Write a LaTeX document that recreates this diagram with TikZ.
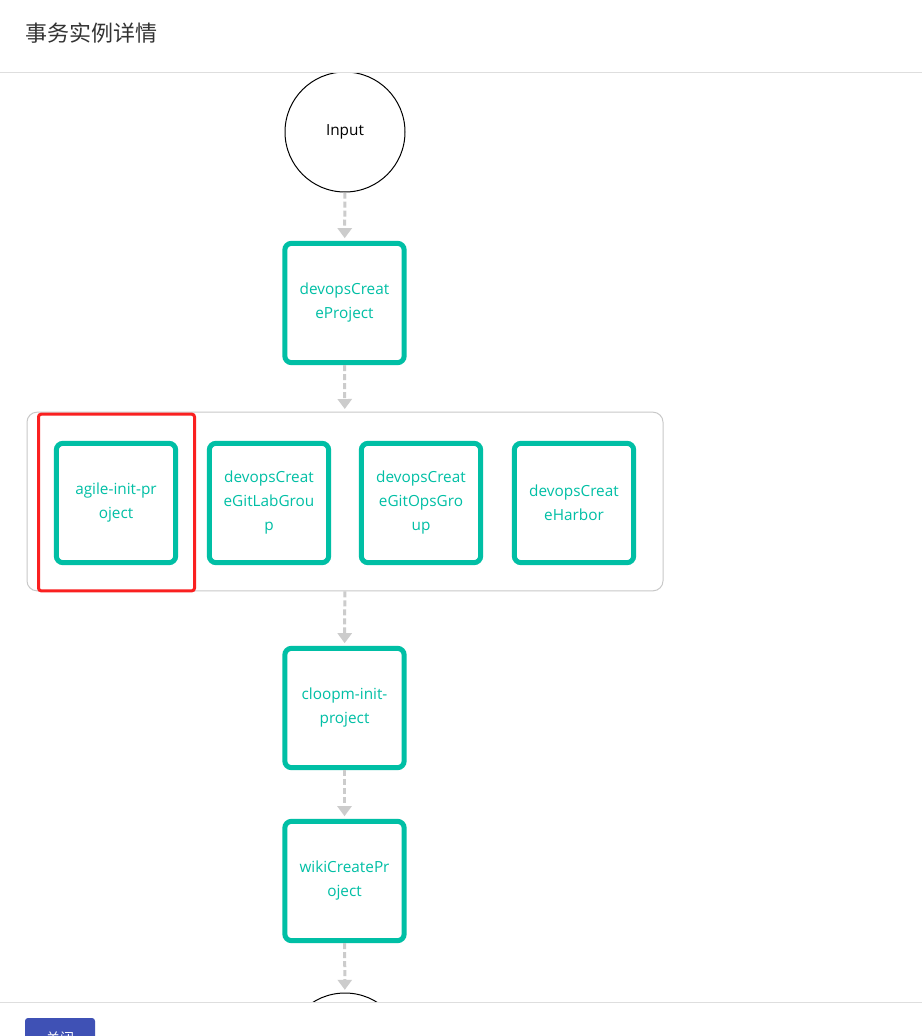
\documentclass[tikz,border=0pt]{standalone}
\usepackage{fontspec}
\setmainfont{Open Sans}
\newfontfamily\cjk{Noto Sans CJK SC}
\usetikzlibrary{arrows.meta}
\definecolor{taskgreen}{RGB}{0,191,165}
\definecolor{flowgray}{RGB}{204,204,204}
\definecolor{groupgray}{RGB}{200,200,200}
\definecolor{rulegray}{RGB}{222,222,222}
\definecolor{pickred}{RGB}{250,32,32}
\definecolor{btnblue}{RGB}{63,81,181}
\definecolor{headgray}{RGB}{51,51,51}
\begin{document}
\begin{tikzpicture}
  [x=0.75pt,y=-0.75pt,
   task/.style={rectangle,draw=taskgreen,line width=3.75pt,rounded corners=5pt,
                fill=white,text=taskgreen,align=center,minimum size=89.5pt,
                inner sep=0pt,font=\fontsize{11.5}{18}\selectfont},
   event/.style={circle,draw=black,line width=0.75pt,minimum size=90pt,
                 fill=white,font=\fontsize{11.5}{13}\selectfont},
   group/.style={rectangle,draw=groupgray,line width=0.75pt,rounded corners=7.5pt,
                 minimum width=477pt,minimum height=134pt},
   highlight/.style={rectangle,draw=pickred,line width=2.25pt,rounded corners=2pt,
                     minimum width=117pt,minimum height=132.5pt},
   flow/.style={draw=flowgray,line width=2.25pt,dash pattern=on 4.5pt off 2.25pt,
                -{Triangle[width=10.5pt,length=7.5pt]},shorten >=2pt},
   heading/.style={anchor=west,text=headgray,font=\fontsize{16.5}{20}\selectfont\cjk},
   button/.style={rectangle,fill=btnblue,text=white,rounded corners=2.25pt,
                  minimum width=52.5pt,minimum height=30pt,
                  font=\fontsize{10.5}{13}\selectfont\cjk}]
  \clip (0,0) rectangle (922,1036);
  \fill[white] (0,0) rectangle (922,1036);
  \node[heading] (title) at (21,33) {事务实例详情};
  \begin{scope}
    \clip (0,72) rectangle (922,1002);
    \node[event] (input) at (345,132) {Input};
    \node[task] (create) at (344.5,303) {devopsCreat\\eProject};
    \node[group] (parallel) at (345,501.5) {};
    \node[highlight] (selected) at (116.5,502.5) {};
    \node[task] (agile) at (116,503) {agile-init-pr\\oject};
    \node[task] (gitlab) at (269,503) {devopsCreat\\eGitLabGrou\\p};
    \node[task] (gitops) at (421,503) {devopsCreat\\eGitOpsGro\\up};
    \node[task] (harbor) at (574,503) {devopsCreat\\eHarbor};
    \node[task] (cloopm) at (344.5,708) {cloopm-init-\\project};
    \node[task] (wiki) at (344.5,881) {wikiCreatePr\\oject};
    \node[event] (output) at (345,1053) {};
    \draw[flow] (input) -- (create);
    \draw[flow] (create) -- (parallel);
    \draw[flow] (parallel) -- (cloopm);
    \draw[flow] (cloopm) -- (wiki);
    \draw[flow] (wiki) -- (output);
  \end{scope}
  \draw[rulegray,line width=0.75pt] (0,72) -- (922,72);
  \draw[rulegray,line width=0.75pt] (0,1002) -- (922,1002);
  \node[button] (close) at (60,1038) {关闭};
\end{tikzpicture}
\end{document}
